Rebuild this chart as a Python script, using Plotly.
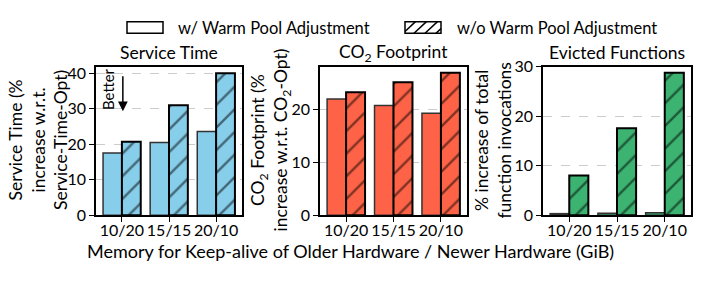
import plotly.graph_objects as go

categories = ["10/20", "15/15", "20/10"]
service_with = [17.5, 20.5, 23.6]
service_without = [20.7, 31.0, 40.0]
co2_with = [22.0, 20.8, 19.3]
co2_without = [23.3, 25.2, 27.0]
evicted_with = [0.3, 0.4, 0.5]
evicted_without = [8.0, 17.6, 28.8]
legend_labels = ["w/ Warm Pool Adjustment", "w/o Warm Pool Adjustment"]

W, H = 701, 281
FONT = "Lato"

def px(x):
    return x / W

def py(y):
    return 1 - y / H

panels = [
    dict(w=service_with, wo=service_without, color="#87CEEB", rng=[0, 41.8],
         xd=[px(96), px(242)], title="Service Time", tx=38.5,
         ytitle="Service Time (%<br>increase w.r.t.<br>Service-Time-Opt)"),
    dict(w=co2_with, wo=co2_without, color="#FF6347", rng=[0, 28.1],
         xd=[px(320), px(467)], title="CO<sub>2</sub> Footprint", tx=270,
         ytitle="CO<sub>2</sub> Footprint (%<br>increase w.r.t. CO<sub>2</sub>-Opt)"),
    dict(w=evicted_with, wo=evicted_without, color="#3CB371", rng=[0, 30],
         xd=[px(543), px(691)], title="Evicted Functions", tx=493,
         ytitle="% increase of total<br>function invocations"),
]

fig = go.Figure()
xs = list(range(len(categories)))
ydom = [py(220), py(61)]
annotations = []
for i, p in enumerate(panels):
    n = "" if i == 0 else str(i + 1)
    xa, ya = "x" + n, "y" + n
    fig.add_trace(go.Bar(x=xs, y=p["w"], xaxis=xa, yaxis=ya, offsetgroup="a",
                         marker=dict(color=p["color"], line=dict(color="#333333", width=1.5)),
                         showlegend=False, name=legend_labels[0]))
    fig.add_trace(go.Bar(x=xs, y=p["wo"], xaxis=xa, yaxis=ya, offsetgroup="b",
                         marker=dict(color=p["color"], line=dict(color="black", width=2),
                                     pattern=dict(shape="/", fgcolor="black", bgcolor=p["color"],
                                                  size=16, solidity=0.15)),
                         showlegend=False, name=legend_labels[1]))
    axis_common = dict(showline=True, linecolor="black", linewidth=1.5, mirror=True,
                       ticks="outside", ticklen=5, tickwidth=1.2, tickcolor="black",
                       tickfont=dict(family=FONT, size=16, color="black"))
    fig.layout["xaxis" + n] = dict(domain=p["xd"], anchor=ya, range=[-0.55, 2.55],
                                   tickvals=xs, ticktext=categories, showgrid=False,
                                   tickangle=0, ticklabelstandoff=-5, **axis_common)
    fig.layout["yaxis" + n] = dict(domain=ydom, anchor=xa, range=p["rng"], dtick=10,
                                   showgrid=True, gridcolor="#cccccc", griddash="dash",
                                   gridwidth=1, zeroline=False, **axis_common)
    annotations.append(dict(text=p["title"], xref="paper", yref="paper",
                            x=(p["xd"][0] + p["xd"][1]) / 2, y=py(46), xanchor="center",
                            yanchor="middle", showarrow=False,
                            font=dict(family=FONT, size=17.5, color="black")))
    annotations.append(dict(text=p["ytitle"], xref="paper", yref="paper",
                            x=px(p["tx"]), y=py(140), xanchor="center", yanchor="middle",
                            textangle=-90, showarrow=False,
                            font=dict(family=FONT, size=17.5, color="black")))

# x-axis common title
annotations.append(dict(text="Memory for Keep-alive of Older Hardware / Newer Hardware (GiB)",
                        xref="paper", yref="paper", x=px(350.5), y=py(258), xanchor="center",
                        yanchor="middle", showarrow=False,
                        font=dict(family=FONT, size=18, color="black")))
# "Better" arrow
annotations.append(dict(text="", x=0.02, y=29.3, ax=0.02, ay=39.6, xref="x", yref="y",
                        axref="x", ayref="y", showarrow=True, arrowhead=2, arrowsize=1.3,
                        arrowwidth=1.5, arrowcolor="black"))
annotations.append(dict(text="Better", x=-0.3, y=35.5, xref="x", yref="y", textangle=-90,
                        showarrow=False, font=dict(family=FONT, size=15, color="black")))

# legend
shapes = [dict(type="rect", xref="paper", yref="paper", x0=px(127), x1=px(163),
               y0=py(25), y1=py(12.5), line=dict(color="black", width=1.5), fillcolor="white")]
shapes.append(dict(type="rect", xref="paper", yref="paper", x0=px(405), x1=px(441),
                   y0=py(25), y1=py(12.5), line=dict(color="black", width=1.5), fillcolor="white"))
for k in range(4):
    x0 = 405 + k * 11 - 2
    shapes.append(dict(type="line", xref="paper", yref="paper",
                       x0=px(max(x0, 405)), y0=py(25 - (max(x0, 405) - x0)),
                       x1=px(min(x0 + 12.5, 441)), y1=py(12.5 + (x0 + 12.5 - min(x0 + 12.5, 441))),
                       line=dict(color="black", width=1.5)))
annotations.append(dict(text=legend_labels[0], xref="paper", yref="paper", x=px(176), y=py(19),
                        xanchor="left", yanchor="middle", showarrow=False,
                        font=dict(family=FONT, size=16.5, color="black")))
annotations.append(dict(text=legend_labels[1], xref="paper", yref="paper", x=px(455), y=py(19),
                        xanchor="left", yanchor="middle", showarrow=False,
                        font=dict(family=FONT, size=16.5, color="black")))

fig.update_layout(width=W, height=H, autosize=False, margin=dict(l=0, r=0, t=0, b=0),
                  paper_bgcolor="white", plot_bgcolor="white", barmode="group",
                  bargap=0.2, bargroupgap=0, annotations=annotations, shapes=shapes,
                  showlegend=False, font=dict(family=FONT, color="black"))
fig.write_html("out.html", config={"responsive": False, "displayModeBar": False},
               post_script="document.body.style.margin='0';document.body.style.overflow='hidden';")
